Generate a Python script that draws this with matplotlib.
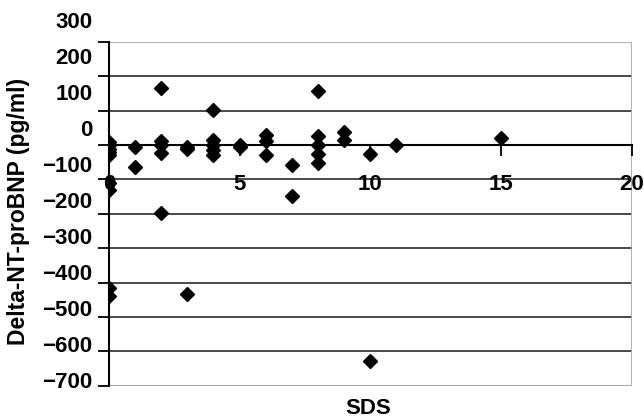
import numpy as np
import matplotlib.pyplot as plt
from matplotlib.transforms import offset_copy

plt.rcParams['font.family'] = ['Liberation Sans', 'DejaVu Sans']

# DATOS
sds = [0, 0, 0, 0, 0, 0, 0, 0, 0,
       1, 1,
       2, 2, 2, 2, 2,
       3, 3, 3,
       4, 4, 4, 4, 4,
       5, 5,
       6, 6, 6,
       7, 7,
       8, 8, 8, 8, 8,
       9, 9,
       10, 10,
       11,
       15]
delta = [10, 0, -10, -20, -30, -110, -130, -415, -440,
         -5, -63,
         165, 12, 0, -24, -197,
         -5, -10, -433,
         102, 15, 0, -15, -30,
         0, -5,
         29, 12, -28,
         -58, -147,
         158, 26, 0, -26, -51,
         39, 15,
         -26, -627,
         0,
         22]

xticks = [0, 5, 10, 15, 20]
yticks = [300, 200, 100, 0, -100, -200, -300, -400, -500, -600, -700]

fig = plt.figure(figsize=(6.44, 4.19), dpi=100)
ax = fig.add_axes([0.169, 0.079, 0.812, 0.821])

# lineas horizontales
for v in yticks[1:-1]:
    ax.axhline(v, color='#3a3a3a', lw=1.3, zorder=1)
ax.axhline(300, color='#aaaaaa', lw=1.3, zorder=1)
ax.axhline(-700, color='#aaaaaa', lw=1.5, zorder=1)
ax.axvline(20, color='#aaaaaa', lw=1.3, zorder=1)

ax.plot(sds, delta, 'D', color='black', ms=7, zorder=3)

ax.set_xlim(0, 20)
ax.set_ylim(-700, 300)

for s in ['top', 'right']:
    ax.spines[s].set_visible(False)
ax.spines['bottom'].set_position(('data', 0))
ax.spines['bottom'].set_linewidth(1.5)
ax.spines['left'].set_linewidth(1.5)
ax.spines['bottom'].set_zorder(2)

ax.set_xticks(xticks)
ax.set_xticklabels([str(t) for t in xticks], fontsize=16, fontweight='bold')
ax.tick_params(axis='x', direction='out', length=8, width=1.3, pad=13)

ax.set_yticks(yticks)
ax.set_yticklabels([])
ax.tick_params(axis='y', direction='out', length=8, width=1.3)

# etiquetas del eje y (algo corridas hacia arriba como en el original)
for v in yticks:
    off = 3 + (v + 700) / 1000 * 16
    tr = offset_copy(ax.get_yaxis_transform(), fig=fig, y=off * 0.72, units='points')
    lab = '\u2212' + str(-v) if v < 0 else str(v)
    ax.text(-0.031, v, lab, transform=tr, ha='right', va='center',
            fontsize=16, fontweight='bold')

fig.text(0.028, 0.496, 'Delta-NT-proBNP (pg/ml)', rotation=90, ha='center',
         va='center', fontsize=16.5, fontweight='bold')
fig.text(0.571, 0.026, 'SDS', ha='center', va='center', fontsize=16,
         fontweight='bold')

fig.savefig('out.png', dpi=100)
